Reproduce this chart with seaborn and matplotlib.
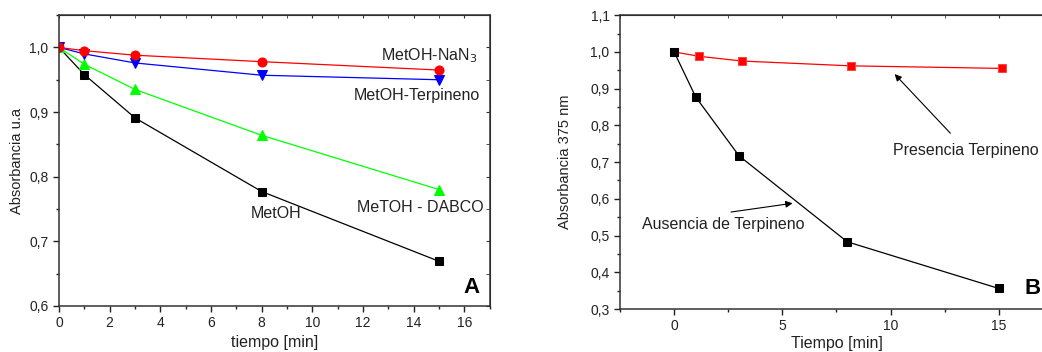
import matplotlib
matplotlib.use("Agg")
import matplotlib.pyplot as plt
import seaborn as sns
from matplotlib.ticker import MultipleLocator, FuncFormatter

# ---- panel A data
tiempo = [0, 1, 3, 8, 15]
metoh = [1.0, 0.958, 0.891, 0.777, 0.669]
metoh_dabco = [1.0, 0.974, 0.935, 0.864, 0.780]
metoh_terpineno = [1.0, 0.990, 0.976, 0.957, 0.950]
metoh_nan3 = [1.0, 0.995, 0.988, 0.978, 0.965]

# ---- panel B data
tiempo_ausencia = [0, 1, 3, 8, 15]
ausencia = [1.0, 0.877, 0.717, 0.483, 0.356]
tiempo_presencia = [0, 1.15, 3.15, 8.15, 15.15]
presencia = [1.0, 0.988, 0.975, 0.962, 0.955]

sns.set_style("ticks")
plt.rcParams['font.family'] = ['Liberation Sans', 'DejaVu Sans']
plt.rcParams['text.color'] = '#222222'
plt.rcParams['axes.labelcolor'] = '#222222'

comma = FuncFormatter(lambda v, p: f"{v:.1f}".replace('.', ','))


def style_axes(ax, xmaj, xmin, ymaj, ymin, mirror_right=True):
    ax.xaxis.set_major_locator(MultipleLocator(xmaj))
    ax.xaxis.set_minor_locator(MultipleLocator(xmin))
    ax.yaxis.set_major_locator(MultipleLocator(ymaj))
    ax.yaxis.set_minor_locator(MultipleLocator(ymin))
    ax.yaxis.set_major_formatter(comma)
    ax.tick_params(which='major', direction='out', length=4, width=1, labelsize=10, colors='#222222')
    ax.tick_params(which='minor', direction='out', length=2.5, width=1, colors='#222222')
    for s in ax.spines.values():
        s.set_linewidth(1.1)
        s.set_color('#333333')
    # mirrored inward ticks on top / right
    top = ax.secondary_xaxis('top')
    top.xaxis.set_major_locator(MultipleLocator(xmaj))
    top.xaxis.set_minor_locator(MultipleLocator(xmin))
    top.tick_params(which='both', direction='in', length=2.5, labeltop=False, colors='#333333')
    if mirror_right:
        right = ax.secondary_yaxis('right')
        right.yaxis.set_major_locator(MultipleLocator(ymaj))
        right.yaxis.set_minor_locator(MultipleLocator(ymin))
        right.tick_params(which='both', direction='in', length=3, labelright=False, colors='#333333')


fig = plt.figure(figsize=(10.42, 3.52), dpi=100)

########## A
axA = fig.add_axes([0.0566, 0.131, 0.4134, 0.826])
series_a = [
    (metoh, 'black', 's', 5.5),
    (metoh_dabco, '#00ff00', '^', 7),
    (metoh_terpineno, '#0000ff', 'v', 7),
    (metoh_nan3, '#ff0000', 'o', 6.5),
]
for vals, col, mk, ms in series_a:
    sns.lineplot(x=tiempo, y=vals, ax=axA, color=col, marker=mk, markersize=ms,
                 markeredgecolor=col, linewidth=0.9, sort=False, estimator=None)
axA.set_xlim(0, 17)
axA.set_ylim(0.6, 1.05)
style_axes(axA, 2, 1, 0.1, 0.05)
axA.set_xlabel("tiempo [min]", fontsize=11.5)
axA.set_ylabel("Absorbancia u.a", fontsize=10.5)
axA.xaxis.set_label_coords(0.5, -0.10)
axA.yaxis.set_label_coords(-0.082, 0.5)

axA.text(16.5, 0.988, "MetOH-NaN$_3$", fontsize=11.5, ha='right', va='center')
axA.text(16.6, 0.925, "MetOH-Terpineno", fontsize=11.5, ha='right', va='center')
axA.text(16.75, 0.752, "MeTOH - DABCO", fontsize=11.5, ha='right', va='center')
axA.text(7.55, 0.743, "MetOH", fontsize=11.5, ha='left', va='center')
axA.text(16.6, 0.628, "A", fontsize=16, fontweight='bold', ha='right', va='center', color='black')

########## B
axB = fig.add_axes([0.595, 0.122, 0.4155, 0.835])
sns.lineplot(x=tiempo_presencia, y=presencia, ax=axB, color='#ff0000', marker='s', markersize=6,
             markeredgecolor='#ff4444', linewidth=0.9, sort=False, estimator=None)
sns.lineplot(x=tiempo_ausencia, y=ausencia, ax=axB, color='black', marker='s', markersize=5.5,
             markeredgecolor='black', linewidth=0.9, sort=False, estimator=None)
axB.set_xlim(-2.5, 17.5)
axB.set_ylim(0.3, 1.1)
style_axes(axB, 5, 2.5, 0.1, 0.05, mirror_right=False)
axB.set_xlabel("Tiempo [min]", fontsize=11.5)
axB.set_ylabel("Absorbancia 375 nm", fontsize=10.5)
axB.xaxis.set_label_coords(0.5, -0.092)
axB.yaxis.set_label_coords(-0.11, 0.5)

axB.annotate("", xy=(10.1, 0.945), xytext=(12.85, 0.773),
             arrowprops=dict(arrowstyle='-|>', color='black', lw=0.8, mutation_scale=10))
axB.annotate("", xy=(5.6, 0.589), xytext=(2.5, 0.563),
             arrowprops=dict(arrowstyle='-|>', color='black', lw=0.8, mutation_scale=10))
axB.text(10.1, 0.732, "Presencia Terpineno", fontsize=11.5, ha='left', va='center')
axB.text(-1.5, 0.530, "Ausencia de Terpineno", fontsize=11.5, ha='left', va='center')
axB.text(16.2, 0.355, "B", fontsize=16, fontweight='bold', ha='left', va='center', color='black')

fig.savefig("out.png", dpi=100)
